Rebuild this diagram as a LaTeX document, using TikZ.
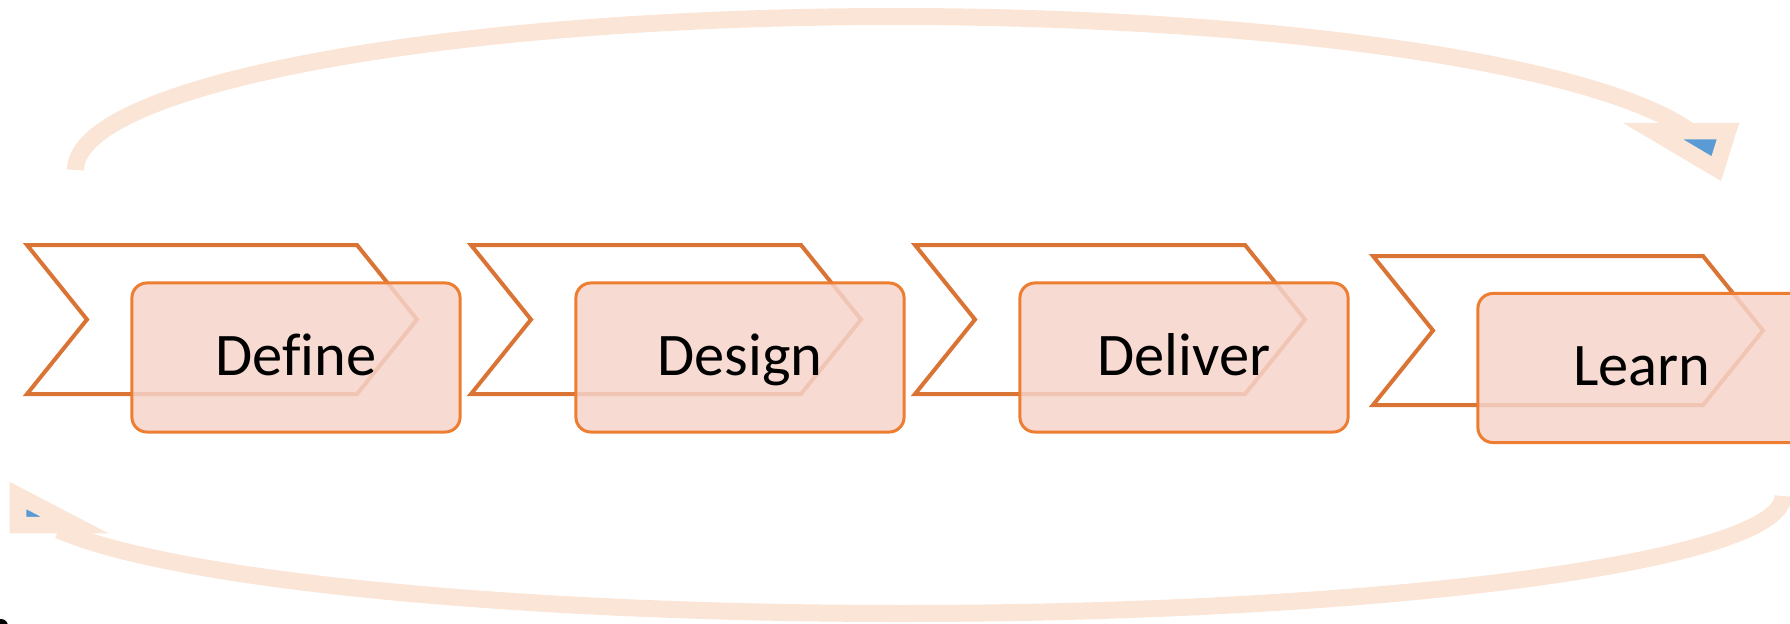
\documentclass[tikz,border=0pt]{standalone}
\usepackage{fontspec}
\setmainfont{Carlito}[Ligatures=NoCommon]
\usepackage{xcolor}
\usepackage{tikz}
\usetikzlibrary{positioning, calc}

\definecolor{chevorange}{RGB}{218,116,52}
\definecolor{boxorange}{RGB}{237,125,49}
\definecolor{boxfill}{RGB}{246,212,202}
\definecolor{looppeach}{RGB}{251,229,214}
\definecolor{tipblue}{RGB}{91,155,213}

\begin{document}
\begin{tikzpicture}[
    x=0.01cm, y=-0.01cm,
    font=\fontsize{17.2}{20}\selectfont,
    chevron/.pic={\draw[chevorange, line width=0.04cm, line join=miter] (0,0) -- (330,0) -- (390,74.5) -- (330,149) -- (0,149) -- (60,74.5) -- cycle;},
    phase/.style={draw=boxorange, line width=0.03cm, fill=boxfill, fill opacity=0.85, text opacity=1, rounded corners=0.15cm, minimum width=3.28cm, minimum height=1.49cm, text height=11.1pt, text depth=1.1pt, inner sep=0pt},
    loop/.style={looppeach, line width=0.17cm},
    loophead/.style={draw=looppeach, fill=tipblue, line width=0.165cm, line join=miter}
]
    \useasboundingbox (0,0) rectangle (1790,624);

    \pic at (27,245) {chevron};
    \pic at (471,245) {chevron};
    \pic at (915,245) {chevron};
    \pic at (1373,256) {chevron};

    \node[phase] (define) at (296,357.5) {Define};
    \node[phase] (design) at (740,357.5) {Design};
    \node[phase] (deliver) at (1184,357.5) {Deliver};
    \node[phase] (learn) at (1642,368) {Learn};

    \coordinate (topstart) at (75.5,170);
    \coordinate (bottomstart) at (1783,496);
    \draw[loop] (topstart) arc[start angle=180, end angle=345.3, x radius=820.5, y radius=153.5];
    \draw[loop] (bottomstart) arc[start angle=0, end angle=163.2, x radius=881, y radius=117.5];
    \draw[loophead] (1652.8,131) -- (1728,131) -- (1716.3,168.6) -- cycle;
    \draw[loophead] (18,495.5) -- (18,525) -- (74.6,525) -- cycle;

    \fill (1,626) circle[radius=0.07cm];
\end{tikzpicture}
\end{document}
